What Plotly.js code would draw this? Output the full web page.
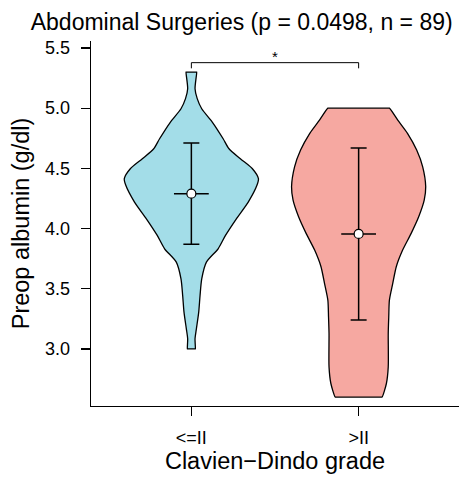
<!DOCTYPE html>
<html>
<head>
<meta charset="utf-8">
<script src="https://cdn.plot.ly/plotly-3.0.1.min.js"></script>
<style>html,body{margin:0;padding:0;background:#fff;}</style>
</head>
<body>
<div id="chart" style="width:462px;height:477px;"></div>
<script>
// Categories
const categories = ["<=II", ">II"];
const catPos = [1, 2];

// Violin outline (density half-widths, in category units)
const blueY = [3.0, 3.084, 3.167, 3.306, 3.444, 3.582, 3.721, 3.832, 3.943, 4.081, 4.220, 4.359, 4.414, 4.497, 4.580, 4.663, 4.746, 4.885, 4.995, 5.079, 5.162, 5.3];
const blueHalf = [0.024, 0.022, 0.030, 0.044, 0.052, 0.062, 0.090, 0.160, 0.204, 0.269, 0.340, 0.392, 0.401, 0.365, 0.293, 0.225, 0.190, 0.125, 0.062, 0.035, 0.022, 0.032];

const redY = [2.6, 2.713, 2.851, 3.128, 3.266, 3.405, 3.544, 3.683, 3.821, 3.960, 4.098, 4.236, 4.347, 4.513, 4.652, 4.791, 4.901, 5.0];
const redHalf = [0.140, 0.166, 0.177, 0.177, 0.180, 0.184, 0.204, 0.225, 0.263, 0.314, 0.359, 0.392, 0.401, 0.383, 0.347, 0.292, 0.234, 0.184];

// Mean and SD
const means = [4.29, 3.955];
const sdUp = [0.42, 0.715];
const sdDown = [0.42, 0.715];

// Significance bracket
const bracketX = [1, 1, 2, 2];
const bracketY = [5.331, 5.378, 5.378, 5.331];
const sigLabel = "*";
const sigY = 5.43;

const yTicks = [3.0, 3.5, 4.0, 4.5, 5.0, 5.5];

// Build a closed outline; the flat ends get extra collinear points so the spline keeps sharp corners
function violinPath(center, ys, halves) {
  const n = ys.length;
  const xs = [], yy = [];
  const edge = [0.97, 0.5, 0, -0.5, -0.97];
  // bottom edge, right to left
  xs.push(center + halves[0]); yy.push(ys[0]);
  edge.forEach(f => { xs.push(center + f * halves[0]); yy.push(ys[0]); });
  for (let i = 0; i < n; i++) { xs.push(center - halves[i]); yy.push(ys[i]); }
  // top edge, left to right
  edge.slice().reverse().forEach(f => { xs.push(center + f * halves[n - 1]); yy.push(ys[n - 1]); });
  for (let i = n - 1; i >= 0; i--) { xs.push(center + halves[i]); yy.push(ys[i]); }
  return {x: xs, y: yy};
}

const vb = violinPath(catPos[0], blueY, blueHalf);
const vr = violinPath(catPos[1], redY, redHalf);

const font = "Liberation Sans, Arial, Helvetica, sans-serif";

const traces = [
  {x: vb.x, y: vb.y, type: "scatter", mode: "lines", fill: "toself",
   fillcolor: "#a3dde8", line: {color: "#000", width: 1.3, shape: "spline", smoothing: 0.7},
   hoverinfo: "skip", showlegend: false},
  {x: vr.x, y: vr.y, type: "scatter", mode: "lines", fill: "toself",
   fillcolor: "#f6a8a1", line: {color: "#000", width: 1.3, shape: "spline", smoothing: 0.7},
   hoverinfo: "skip", showlegend: false},
  {x: catPos, y: means, type: "scatter", mode: "markers",
   error_y: {type: "data", symmetric: false, array: sdUp, arrayminus: sdDown, width: 8, thickness: 1.5, color: "#000"},
   error_x: {type: "constant", value: 0.104, width: 0, thickness: 1.5, color: "#000"},
   marker: {size: 9, color: "#fff", line: {color: "#000", width: 1.2}},
   showlegend: false},
  {x: bracketX, y: bracketY, type: "scatter", mode: "lines",
   line: {color: "#000", width: 1}, showlegend: false, hoverinfo: "skip"}
];

const layout = {
  width: 462, height: 477,
  margin: {l: 91, r: 3, t: 41, b: 71},
  paper_bgcolor: "#fff", plot_bgcolor: "#fff",
  font: {family: font, color: "#000"},
  title: {text: "Abdominal Surgeries (p = 0.0498, n = 89)", font: {size: 23, family: font, color: "#000"},
          x: 241.7 / 462, xanchor: "center", xref: "container", y: 1 - 22/477, yanchor: "middle", yref: "container"},
  showlegend: false,
  xaxis: {
    range: [0.4, 2.6], tickvals: catPos, ticktext: categories,
    showgrid: false, zeroline: false, showline: true, linecolor: "#000", linewidth: 1.3,
    ticks: "outside", ticklen: 9, tickwidth: 1.3, tickcolor: "#000",
    tickfont: {size: 18, family: font, color: "#000"}, ticklabelstandoff: 6,
    title: {text: "Clavien\u2212Dindo grade", font: {size: 23.5, family: font, color: "#000"}, standoff: 4},
    fixedrange: true
  },
  yaxis: {
    range: [2.526, 5.558], tickvals: yTicks, tickformat: ".1f",
    showgrid: false, zeroline: false, showline: true, linecolor: "#000", linewidth: 1.3,
    ticks: "outside", ticklen: 9, tickwidth: 1.3, tickcolor: "#000",
    tickfont: {size: 18, family: font, color: "#000"}, ticklabelstandoff: 7,
    title: {text: "Preop albumin (g/dl)", font: {size: 23.5, family: font, color: "#000"}, standoff: 8},
    fixedrange: true
  },
  annotations: [
    {x: (bracketX[0] + bracketX[3]) / 2, y: sigY, xref: "x", yref: "y", text: sigLabel, showarrow: false,
     font: {size: 15, family: font, color: "#000"}}
  ]
};

Plotly.newPlot("chart", traces, layout, {displayModeBar: false, staticPlot: true});
</script>
</body>
</html>
